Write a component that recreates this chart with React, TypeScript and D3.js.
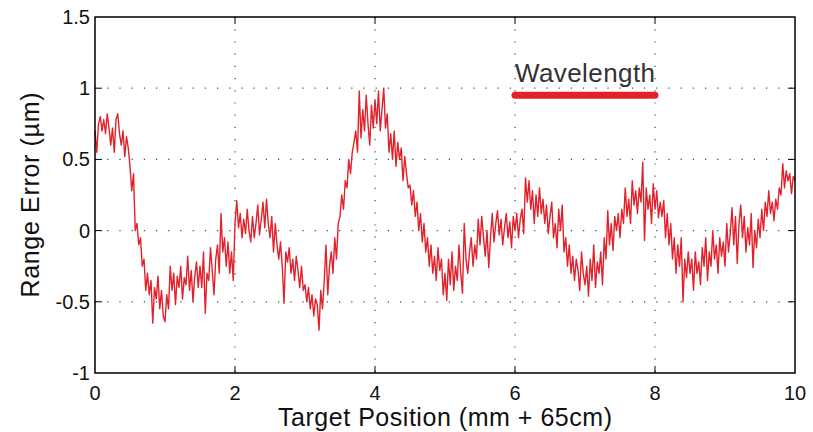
import React from "react";
import * as d3 from "d3";

const xStep = 0.025;
const rangeError: number[] = [
  0.7, 0.55, 0.75, 0.8, 0.7, 0.78, 0.68, 0.82, 0.72, 0.6, 0.72, 0.55, 0.78, 0.82, 0.68, 0.6, 0.7, 0.52, 0.66, 0.58,
  0.45, 0.28, 0.4, 0.0, 0.05, -0.1, -0.05, -0.25, -0.2, -0.42, -0.3, -0.45, -0.35, -0.65, -0.4, -0.48, -0.32, -0.55, -0.42, -0.6,
  -0.64, -0.45, -0.55, -0.25, -0.42, -0.3, -0.52, -0.32, -0.4, -0.25, -0.48, -0.33, -0.38, -0.18, -0.42, -0.28, -0.5, -0.32, -0.22, -0.4,
  -0.25, -0.4, -0.15, -0.58, -0.3, -0.35, -0.12, -0.28, -0.45, -0.2, -0.1, -0.3, 0.12, -0.15, -0.05, -0.25, -0.08, -0.3, -0.15, -0.35,
  0.05, 0.21, 0.02, 0.12, -0.05, 0.08, -0.02, 0.15, 0.0, -0.08, 0.1, -0.05, 0.05, 0.18, -0.03, 0.08, 0.2, 0.02, 0.22, 0.05,
  -0.05, 0.1, -0.15, 0.05, -0.1, -0.2, -0.08, -0.25, -0.51, -0.15, -0.22, -0.12, -0.3, -0.2, -0.35, -0.18, -0.28, -0.4, -0.25, -0.42,
  -0.38, -0.5, -0.4, -0.55, -0.45, -0.6, -0.48, -0.52, -0.7, -0.42, -0.55, -0.35, -0.1, -0.45, -0.25, -0.15, -0.3, -0.05, -0.2, 0.05,
  0.1, 0.25, 0.15, 0.35, 0.3, 0.5, 0.4, 0.55, 0.62, 0.7, 0.55, 0.98, 0.65, 0.85, 0.7, 0.95, 0.75, 0.6, 0.88, 0.72,
  0.92, 0.75, 0.98, 0.7, 0.85, 1.0, 0.72, 0.82, 0.55, 0.68, 0.5, 0.7, 0.45, 0.62, 0.5, 0.58, 0.35, 0.52, 0.4, 0.3,
  0.32, 0.18, 0.28, 0.1, 0.2, 0.0, 0.12, -0.08, 0.05, -0.15, -0.05, -0.25, -0.1, -0.3, -0.18, -0.35, -0.12, -0.28, -0.2, -0.45,
  -0.3, -0.49, -0.2, -0.38, -0.15, -0.42, -0.25, -0.35, -0.1, -0.3, -0.44, 0.05, -0.2, -0.3, -0.15, -0.05, -0.25, -0.1, -0.2, 0.08,
  -0.1, 0.1, -0.05, -0.18, 0.0, -0.26, -0.05, 0.12, -0.08, 0.05, 0.14, -0.03, 0.08, -0.1, 0.02, 0.12, -0.05, 0.06, -0.12, 0.1,
  0.0, 0.12, -0.05, 0.08, 0.15, -0.02, 0.37, 0.2, 0.35, 0.15, 0.28, 0.05, 0.25, 0.1, 0.3, 0.12, 0.22, 0.05, 0.18, -0.02,
  0.1, 0.2, -0.05, 0.05, -0.12, 0.15, 0.0, 0.18, -0.15, -0.05, -0.25, -0.1, -0.3, -0.18, -0.35, -0.2, -0.28, -0.42, -0.15, -0.3,
  -0.38, -0.25, -0.46, -0.2, -0.35, -0.1, -0.4, -0.22, -0.3, -0.15, -0.38, -0.05, -0.2, 0.14, -0.1, 0.05, -0.14, 0.1, 0.0, 0.12,
  -0.05, 0.15, 0.05, 0.3, 0.1, 0.22, 0.05, 0.35, 0.18, 0.28, 0.12, 0.3, 0.2, 0.48, -0.07, 0.3, 0.15, 0.25, 0.05, 0.33,
  0.15, 0.28, 0.09, 0.2, 0.1, 0.21, -0.05, 0.12, -0.1, 0.05, -0.2, -0.05, -0.3, -0.1, -0.25, -0.05, -0.5, -0.2, -0.33, -0.15,
  -0.3, -0.2, -0.42, -0.15, -0.3, -0.22, -0.38, -0.12, -0.25, -0.05, -0.35, -0.15, -0.25, 0.0, -0.2, -0.1, -0.3, -0.05, -0.18, -0.08,
  -0.25, 0.05, -0.15, -0.02, 0.16, -0.1, 0.1, -0.23, 0.05, 0.18, -0.05, 0.1, -0.15, 0.02, -0.1, 0.12, -0.26, 0.0, -0.12, 0.08,
  -0.05, 0.15, 0.0, 0.2, 0.1, 0.28, 0.12, 0.2, 0.07, 0.22, 0.15, 0.3, 0.25, 0.47, 0.3, 0.42, 0.35, 0.4, 0.26, 0.38,
  0.35,
];

const xTicks = [0, 2, 4, 6, 8, 10];
const yTicks = [-1, -0.5, 0, 0.5, 1, 1.5];
const xGrid = [2, 4, 6, 8];
const yGrid = [-0.5, 0, 0.5, 1];
const wavelengthStart = 6;
const wavelengthEnd = 8;
const wavelengthLevel = 0.95;
const wavelengthLabel = "Wavelength";
const xTitle = "Target Position (mm + 65cm)";
const yTitle = "Range Error (µm)";

const W = 813;
const H = 432;
const L = 95, R = 795, T = 17, B = 373;
const RED = "#e3212b";
const FONT = "'Liberation Sans', Arial, Helvetica, sans-serif";

export default function App() {
  const x = d3.scaleLinear().domain([0, 10]).range([L, R]);
  const y = d3.scaleLinear().domain([-1, 1.5]).range([B, T]);
  const line = d3
    .line<number>()
    .x((_, i) => x(i * xStep))
    .y((d) => y(d));
  const tickLen = 7;
  const fmt = (v: number) => String(v);

  return (
    <svg
      width={W}
      height={H}
      style={{ position: "absolute", left: 0, top: 0, background: "#fff" }}
      fontFamily={FONT}
    >
      <rect x={0} y={0} width={W} height={H} fill="#fff" />
      {xGrid.map((g) => (
        <line key={"gx" + g} x1={x(g)} x2={x(g)} y1={T} y2={B} stroke="#444" strokeWidth={1.2} strokeDasharray="1.2,11" />
      ))}
      {yGrid.map((g) => (
        <line key={"gy" + g} x1={L} x2={R} y1={y(g)} y2={y(g)} stroke="#444" strokeWidth={1.2} strokeDasharray="1.2,11" />
      ))}
      <path d={line(rangeError) || ""} fill="none" stroke={RED} strokeWidth={1.4} strokeLinejoin="round" />
      <line
        x1={x(wavelengthStart)}
        x2={x(wavelengthEnd)}
        y1={y(wavelengthLevel)}
        y2={y(wavelengthLevel)}
        stroke={RED}
        strokeWidth={7}
        strokeLinecap="round"
      />
      <text x={x(wavelengthStart)} y={y(wavelengthLevel) - 13} fontSize={26} fill="#333" textLength={140}>
        {wavelengthLabel}
      </text>
      {xTicks.slice(1, -1).map((t) => (
        <g key={"xt" + t}>
          <line x1={x(t)} x2={x(t)} y1={B} y2={B - tickLen} stroke="#000" strokeWidth={1} />
          <line x1={x(t)} x2={x(t)} y1={T} y2={T + tickLen} stroke="#000" strokeWidth={1} />
        </g>
      ))}
      {yTicks.slice(1, -1).map((t) => (
        <g key={"yt" + t}>
          <line x1={L} x2={L + tickLen} y1={y(t)} y2={y(t)} stroke="#000" strokeWidth={1} />
          <line x1={R} x2={R - tickLen} y1={y(t)} y2={y(t)} stroke="#000" strokeWidth={1} />
        </g>
      ))}
      <rect x={L} y={T} width={R - L} height={B - T} fill="none" stroke="#000" strokeWidth={1.5} />
      {xTicks.map((t) => (
        <text key={"xl" + t} x={x(t)} y={B + 27} fontSize={20} textAnchor="middle" fill="#111">
          {fmt(t)}
        </text>
      ))}
      {yTicks.map((t) => (
        <text key={"yl" + t} x={L - 5} y={y(t) + 7} fontSize={20} textAnchor="end" fill="#111">
          {fmt(t)}
        </text>
      ))}
      <text x={445} y={426} fontSize={25} textAnchor="middle" fill="#111" textLength={334}>
        {xTitle}
      </text>
      <text
        transform={`translate(39, ${(T + B) / 2}) rotate(-90)`}
        fontSize={25}
        textAnchor="middle"
        fill="#111"
        textLength={205}
      >
        {yTitle}
      </text>
    </svg>
  );
}
